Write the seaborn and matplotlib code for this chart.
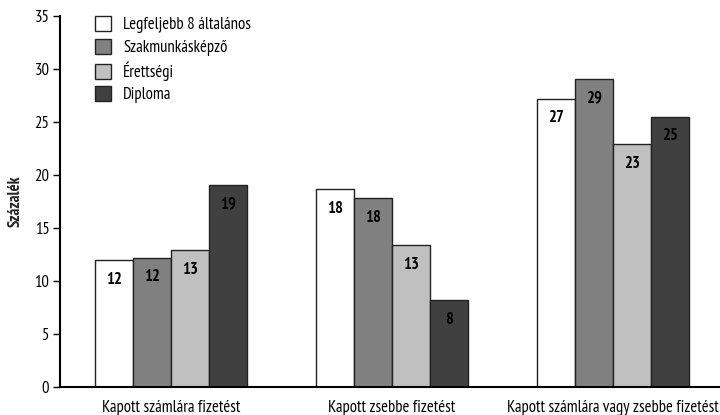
import numpy as np
import pandas as pd
import matplotlib
matplotlib.use("Agg")
import matplotlib.pyplot as plt
import seaborn as sns

# ---------------------------------------------------------
# Data
# ---------------------------------------------------------
categories = ["Kapott számlára fizetést", "Kapott zsebbe fizetést",
              "Kapott számlára vagy zsebbe fizetést"]
series = ["Legfeljebb 8 általános", "Szakmunkásképző", "Érettségi", "Diploma"]
values_8alt = [12.0, 18.7, 27.2]
values_szakm = [12.2, 17.8, 29.1]
values_erett = [12.9, 13.4, 22.9]
values_dipl = [19.1, 8.2, 25.5]
labels_8alt = ["12", "18", "27"]
labels_szakm = ["12", "18", "29"]
labels_erett = ["13", "13", "23"]
labels_dipl = ["19", "8", "25"]

colors = ["#ffffff", "#808080", "#c0c0c0", "#404040"]

rows = []
for s, vals, labs in zip(series,
                         [values_8alt, values_szakm, values_erett, values_dipl],
                         [labels_8alt, labels_szakm, labels_erett, labels_dipl]):
    for c, v, l in zip(categories, vals, labs):
        rows.append({"cat": c, "series": s, "value": v, "label": l})
df = pd.DataFrame(rows)

# ---------------------------------------------------------
# Plot
# ---------------------------------------------------------
sns.set_style("white")
plt.rcParams["font.family"] = ["PT Sans Narrow", "DejaVu Sans"]

fig = plt.figure(figsize=(7.2, 4.15), dpi=100)
ax = fig.add_axes([0.084, 0.0675, 0.916, 0.894])

sns.barplot(data=df, x="cat", y="value", hue="series", order=categories,
            hue_order=series, palette=colors, width=0.69, saturation=1,
            edgecolor="#222222", linewidth=1.0, ax=ax, legend=True)

for container, s in zip(ax.containers, series):
    labs = df[df["series"] == s].set_index("cat").loc[categories, "label"]
    ax.bar_label(container, labels=list(labs), padding=-20, fontsize=12,
                 fontweight="bold", color="black")

ax.set_ylim(0, 35)
ax.set_xlim(-0.5, 2.485)
ax.set_yticks(range(0, 36, 5))
ax.set_xlabel("")
ax.set_ylabel("Százalék", fontsize=12, fontweight="bold", labelpad=8)
ax.tick_params(axis="y", which="major", left=True, length=5, width=1,
               labelsize=12, pad=3, color="black", labelcolor="black")
ax.tick_params(axis="x", bottom=False, labelsize=12, pad=6, labelcolor="black")

sns.despine(ax=ax, top=True, right=True)
for sp in ["left", "bottom"]:
    ax.spines[sp].set_color("black")
    ax.spines[sp].set_linewidth(1.5)

leg = ax.legend(loc="upper left", bbox_to_anchor=(0.052, 1.0), frameon=False,
                fontsize=12, handlelength=1.0, handleheight=1.0,
                labelspacing=0.33, handletextpad=0.7, borderpad=0,
                borderaxespad=0)
for t in leg.get_texts():
    t.set_color("black")

fig.savefig("out.png", dpi=100)
